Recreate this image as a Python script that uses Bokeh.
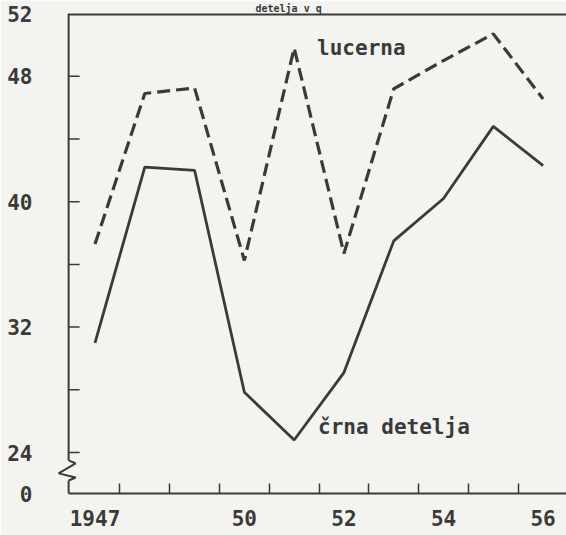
from bokeh.plotting import figure
from bokeh.models import Range1d, FixedTicker, Label
from bokeh.embed import file_html
from bokeh.resources import INLINE

# ---- data ----
years = [1947, 1948, 1949, 1950, 1951, 1952, 1953, 1954, 1955, 1956]
lucerna = [37.3, 46.9, 47.25, 36.25, 49.8, 36.7, 47.2, 49.0, 50.7, 46.55]
crna_detelja = [31.0, 42.2, 42.0, 27.85, 24.8, 29.1, 37.5, 40.2, 44.8, 42.3]

x_label_years = [1947, 1950, 1952, 1954, 1956]
x_label_texts = ["1947", "50", "52", "54", "56"]
y_labeled_ticks = [24, 32, 40, 48, 52]
y_unlabeled_ticks = [28, 36, 44]
zero_label = "0"
title_text = "detelja v q"
name_lucerna = "lucerna"
name_crna = "črna detelja"

# ---- layout constants ----
X_START, X_AXIS, X_END = 1946.106, 1946.47, 1956.47
Y_BREAK, Y_TOP = 21.39, 52.0
BREAK_HIGH, BREAK_LOW = 23.5, 22.22
PX_X = 1 / 49.8          # one pixel in years
PX_Y = 1 / 15.71         # one pixel in value units
BG = "#f3f3ef"
INK = "#3a3a3a"
FONT = "'DejaVu Sans Mono', monospace"

p = figure(width=566, height=535, output_backend="svg", toolbar_location=None,
           x_range=Range1d(X_START, X_END), y_range=Range1d(Y_BREAK, Y_TOP),
           min_border_left=50, min_border_right=0, min_border_top=12, min_border_bottom=42)
p.background_fill_color = BG
p.border_fill_color = BG
p.outline_line_color = None
p.grid.visible = False

# title (cut-off heading of the scan)
p.title.text = title_text
p.title.text_font = FONT
p.title.text_font_size = "10px"
p.title.text_font_style = "bold"
p.title.text_color = INK
p.title.align = "left"
p.title.offset = 205
p.title.standoff = 0

# x axis
xa = p.xaxis[0]
xa.bounds = (X_AXIS, X_END)
xa.ticker = FixedTicker(ticks=x_label_years, minor_ticks=[y + 0.5 for y in years[:-1]])
xa.major_label_overrides = {y: t for y, t in zip(x_label_years, x_label_texts)}
xa.major_tick_in = 0
xa.major_tick_out = 0
xa.minor_tick_in = 10
xa.minor_tick_out = 0
xa.minor_tick_line_width = 1.5
xa.minor_tick_line_color = INK
xa.axis_line_width = 2
xa.axis_line_color = INK
xa.major_label_standoff = 16
xa.major_label_text_font = FONT
xa.major_label_text_font_size = "21px"
xa.major_label_text_font_style = "bold"
xa.major_label_text_color = INK

# y axis: labels from Bokeh, line and ticks drawn at X_AXIS
ya = p.yaxis[0]
ya.ticker = FixedTicker(ticks=[Y_BREAK] + y_labeled_ticks)
ya.major_label_overrides = {Y_BREAK: zero_label}
ya.axis_line_color = None
ya.major_tick_line_color = None
ya.minor_tick_line_color = None
ya.major_label_standoff = 12
ya.major_label_text_font = FONT
ya.major_label_text_font_size = "21px"
ya.major_label_text_font_style = "bold"
ya.major_label_text_color = INK

# y axis line with break
p.segment(x0=[X_AXIS, X_AXIS], y0=[Y_TOP, BREAK_LOW], x1=[X_AXIS, X_AXIS], y1=[BREAK_HIGH, Y_BREAK],
          line_color=INK, line_width=2)
zig_x = [X_AXIS, X_AXIS + 7 * PX_X, X_AXIS - 10 * PX_X, X_AXIS + 7 * PX_X, X_AXIS]
zig_y = [BREAK_HIGH, BREAK_HIGH - 3 * PX_Y, BREAK_HIGH - 13 * PX_Y, BREAK_LOW + 3 * PX_Y, BREAK_LOW]
p.line(zig_x, zig_y, line_color=INK, line_width=2)

# y ticks (pointing inward)
y_all_ticks = sorted(y_labeled_ticks[:-1] + y_unlabeled_ticks)
p.segment(x0=[X_AXIS] * len(y_all_ticks), y0=y_all_ticks,
          x1=[X_AXIS + 11 * PX_X] * len(y_all_ticks), y1=y_all_ticks,
          line_color=INK, line_width=1.5)

# top frame line
p.segment(x0=[X_AXIS], y0=[Y_TOP], x1=[X_END], y1=[Y_TOP], line_color=INK, line_width=4)

# series
p.line(years, lucerna, line_color=INK, line_width=3.2, line_dash="13 6")
p.line(years, crna_detelja, line_color=INK, line_width=2.8)

# series labels
p.add_layout(Label(x=1951.46, y=49.8, text=name_lucerna, text_font=FONT,
                   text_font_size="21px", text_font_style="bold", text_color=INK,
                   text_baseline="alphabetic"))
p.add_layout(Label(x=1951.48, y=25.6, text=name_crna, text_font=FONT,
                   text_font_size="21px", text_font_style="bold", text_color=INK,
                   text_baseline="alphabetic"))

open("out.html", "w").write(file_html(p, INLINE))
